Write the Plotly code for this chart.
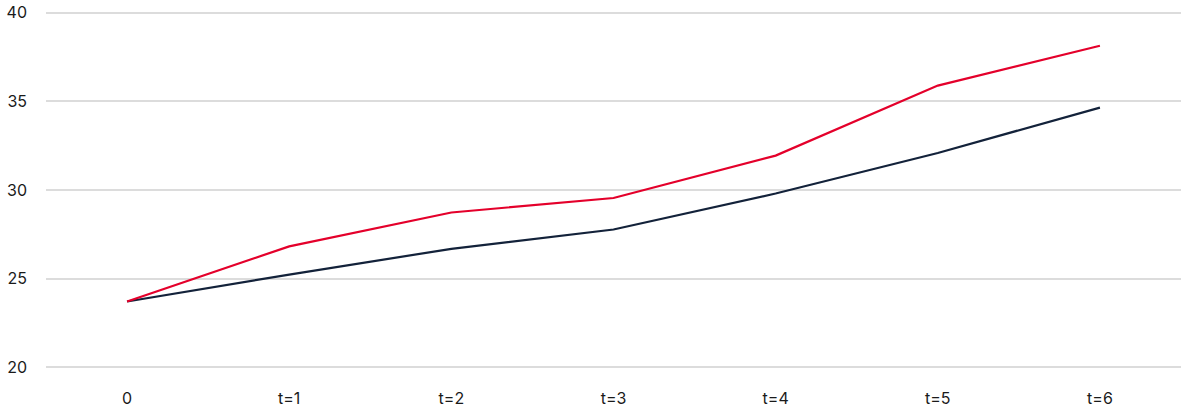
import plotly.graph_objects as go

categories = ["0", "t=1", "t=2", "t=3", "t=4", "t=5", "t=6"]
series_red = [23.71, 26.82, 28.73, 29.55, 31.94, 35.89, 38.14]
series_navy = [23.71, 25.23, 26.68, 27.77, 29.80, 32.09, 34.65]
y_ticks = [20, 25, 30, 35, 40]

fig = go.Figure()
fig.add_trace(go.Scatter(x=categories, y=series_navy, mode="lines",
                         line=dict(color="#13223A", width=2.2), name="navy"))
fig.add_trace(go.Scatter(x=categories, y=series_red, mode="lines",
                         line=dict(color="#E4002B", width=2.2), name="red"))

fig.update_layout(
    width=1181, height=409,
    margin=dict(l=46, r=0, t=11, b=40),
    paper_bgcolor="white", plot_bgcolor="white",
    showlegend=False,
    font=dict(family="Inter", size=16, color="#1a1a1a"),
    xaxis=dict(type="category", range=[-0.5, 6.5], showgrid=False, zeroline=False,
               showline=False, ticks="", ticklabelstandoff=18,
               tickfont=dict(family="Inter", size=16, color="#1a1a1a")),
    yaxis=dict(range=[19.9, 40.1], tickvals=y_ticks, showgrid=True, gridcolor="#dcdcdc",
               gridwidth=1.8, zeroline=False, showline=False, ticks="",
               ticklabelstandoff=18,
               tickfont=dict(family="Inter", size=16, color="#1a1a1a")),
)

fig.write_html("out.html")
